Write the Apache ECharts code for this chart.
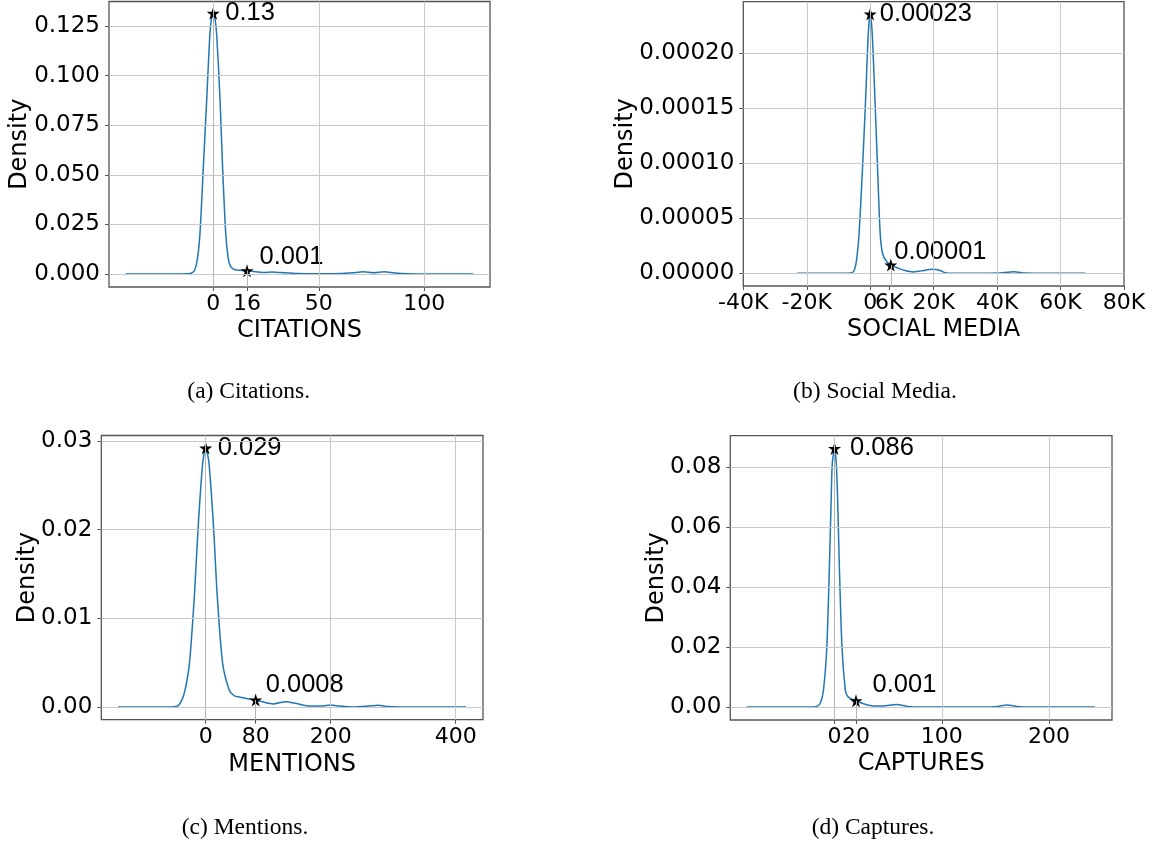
<!DOCTYPE html>
<html>
<head>
<meta charset="utf-8">
<title>Density plots</title>
<script src="https://cdn.jsdelivr.net/npm/echarts@6.0.0/dist/echarts.min.js"></script>
<style>
  html, body { margin: 0; padding: 0; background: #fff; }
  #chart { width: 1159px; height: 843px; }
</style>
</head>
<body>
<div id="chart"></div>
<script>
// (a) citations
const citationsX = [-41.5, -20, -12, -10.5, -9, -7.6, -6.3, -4.7, -3.1, -1.6, -0.7, 0, 0.7, 1.6, 3.2, 4.4, 5.9, 7, 8, 9.5, 12, 16, 20, 24, 28, 32, 40, 50, 60, 66, 71, 76, 81, 86, 92, 100, 123.2];
const citationsY = [0, 0, 0.0001, 0.0004, 0.0015, 0.007, 0.0205, 0.054, 0.088, 0.121, 0.1298, 0.1314, 0.1295, 0.121, 0.088, 0.054, 0.0205, 0.0085, 0.0042, 0.0025, 0.0019, 0.0017, 0.0011, 0.0008, 0.001, 0.0007, 0.0002, 0.0001, 0.0002, 0.0006, 0.0011, 0.0006, 0.0011, 0.0005, 0.0001, 0, 0];
const citationsXTicks = [0, 16, 50, 100];
const citationsXGrid = [0, 50, 100];
const citationsYTicks = [0, 0.025, 0.05, 0.075, 0.1, 0.125];
const citationsMarks = [[0, 0.1314], [16, 0.0017]];
const citationsMarkText = ['0.13', '0.001'];

// (b) social media
const socialX = [-23000, -10000, -6000, -5000, -4300, -3500, -2400, -1450, -600, 0, 630, 1500, 2300, 3150, 3900, 5200, 6500, 9000, 11000, 13500, 16000, 19800, 22000, 24000, 30000, 40000, 45300, 49000, 55000, 67800];
const socialY = [0, 0, 0.0000002, 0.000003, 0.000012, 0.000036, 0.000097, 0.000158, 0.000218, 0.000236, 0.000218, 0.000158, 0.000097, 0.000036, 0.000018, 0.0000105, 0.0000075, 0.0000045, 0.0000025, 0.0000012, 0.0000022, 0.0000036, 0.0000025, 0.0000003, 0, 0.0000002, 0.0000015, 0.0000002, 0, 0];
const socialXTicks = [-40000, -20000, 0, 6000, 20000, 40000, 60000, 80000];
const socialXGrid = [-20000, 0, 20000, 40000, 60000];
const socialYTicks = [0, 0.00005, 0.0001, 0.00015, 0.0002];
const socialMarks = [[0, 0.0002357], [6500, 0.0000075]];
const socialMarkText = ['0.00023', '0.00001'];

// (c) mentions
const mentionsX = [-140, -60, -45, -38, -33, -26, -18.2, -12.3, -4.8, 0, 5.3, 12.8, 18.6, 27.2, 37.8, 45, 52, 65, 80, 95, 108, 128, 145, 167, 185, 200, 215, 236, 260, 276, 292, 320, 416.5];
const mentionsY = [0, 0, 0.0001, 0.0008, 0.0019, 0.0049, 0.0124, 0.02, 0.0275, 0.0292, 0.0275, 0.02, 0.0124, 0.0049, 0.0019, 0.0013, 0.00115, 0.00095, 0.0008, 0.0005, 0.00034, 0.0006, 0.0004, 0.0001, 0.0001, 0.00023, 0.0001, 0, 0.0001, 0.0002, 0.00005, 0, 0];
const mentionsXTicks = [0, 80, 200, 400];
const mentionsXGrid = [0, 200, 400];
const mentionsYTicks = [0, 0.01, 0.02, 0.03];
const mentionsMarks = [[0, 0.0292], [80, 0.0008]];
const mentionsMarkText = ['0.029', '0.0008'];

// (d) captures
const capturesX = [-82, -25, -16, -13, -10.3, -7.2, -4.7, -3.1, -2.1, 0, 1.6, 2.8, 4.4, 6.9, 10, 12, 14.6, 20, 27, 35, 45, 57.7, 68, 80, 140, 152, 161, 170, 180, 242.7];
const capturesY = [0, 0, 0.0003, 0.0015, 0.0057, 0.0201, 0.048, 0.0702, 0.0813, 0.0863, 0.0813, 0.0702, 0.048, 0.0201, 0.0057, 0.0036, 0.0029, 0.0021, 0.0011, 0.0004, 0.0003, 0.0008, 0.0002, 0, 0, 0.0002, 0.0007, 0.0002, 0, 0];
const capturesXTicks = [0, 20, 100, 200];
const capturesXGrid = [0, 100, 200];
const capturesYTicks = [0, 0.02, 0.04, 0.06, 0.08];
const capturesMarks = [[0, 0.0863], [20, 0.0021]];
const capturesMarkText = ['0.086', '0.001'];

const captions = ['(a) Citations.', '(b) Social Media.', '(c) Mentions.', '(d) Captures.'];

const kFmt = v => (v === 0 ? '0' : v / 1000 + 'K');

const panels = [
  { grid: { left: 109, top: 1.5, width: 381, height: 285.5 }, xMin: -49.4, xMax: 131.1, yMin: -0.00655, yMax: 0.13735,
    x: citationsX, y: citationsY, xTicks: citationsXTicks, xGrid: citationsXGrid, yTicks: citationsYTicks,
    yDigits: 3, xFmt: String, name: 'CITATIONS', xGap: 32, yGap: 77,
    marks: citationsMarks, markText: citationsMarkText, offsets: [[5.5, 0], [6, -14]] },
  { grid: { left: 743.3, top: 1.7, width: 380.7, height: 284.3 }, xMin: -40000, xMax: 80000, yMin: -0.00001155, yMax: 0.0002469,
    x: socialX, y: socialY, xTicks: socialXTicks, xGrid: socialXGrid, yTicks: socialYTicks,
    yDigits: 5, xFmt: kFmt, name: 'SOCIAL MEDIA', xGap: 32, yGap: 106,
    marks: socialMarks, markText: socialMarkText, offsets: [[3, 0], [-3, -13]] },
  { grid: { left: 101.3, top: 435.5, width: 381.7, height: 284.2 }, xMin: -167, xMax: 443.7, yMin: -0.001432, yMax: 0.03062,
    x: mentionsX, y: mentionsY, xTicks: mentionsXTicks, xGrid: mentionsXGrid, yTicks: mentionsYTicks,
    yDigits: 2, xFmt: String, name: 'MENTIONS', xGap: 33, yGap: 62,
    marks: mentionsMarks, markText: mentionsMarkText, offsets: [[5.5, 0], [3.5, -15]] },
  { grid: { left: 730.3, top: 435.7, width: 381.7, height: 284.3 }, xMin: -97.2, xMax: 258.7, yMin: -0.00434, yMax: 0.09055,
    x: capturesX, y: capturesY, xTicks: capturesXTicks, xGrid: capturesXGrid, yTicks: capturesYTicks,
    yDigits: 2, xFmt: String, name: 'CAPTURES', xGap: 32, yGap: 62,
    marks: capturesMarks, markText: capturesMarkText, offsets: [[9, 0], [10, -15.5]] }
];

const yTickFont = { fontFamily: 'DejaVu Sans', fontSize: 23, color: '#000' };
const xTickFont = { fontFamily: 'DejaVu Sans', fontSize: 22, color: '#000' };
const nameFont = { fontFamily: 'DejaVu Sans', fontSize: 24, color: '#000' };
const starPath = 'path://M50,0 L61,35 L98,35 L68,57 L79,91 L50,70 L21,91 L32,57 L2,35 L39,35 Z';

const grids = [], xAxes = [], yAxes = [], series = [];

panels.forEach((p, i) => {
  grids.push(Object.assign({ show: true, borderColor: '#555', borderWidth: 1.3, containLabel: false }, p.grid));

  xAxes.push({
    type: 'value', gridIndex: i, min: p.xMin, max: p.xMax,
    name: p.name, nameLocation: 'middle', nameGap: p.xGap, nameMoveOverlap: false,
    nameTextStyle: nameFont,
    axisLine: { show: false, onZero: false },
    axisTick: { show: true, inside: false, length: 4, customValues: p.xTicks, lineStyle: { color: '#555', width: 1 } },
    axisLabel: Object.assign({ margin: 6.5, customValues: p.xTicks, formatter: p.xFmt, hideOverlap: false }, xTickFont),
    splitLine: { show: false }
  });

  yAxes.push({
    type: 'value', gridIndex: i, min: p.yMin, max: p.yMax,
    name: 'Density', nameLocation: 'middle', nameGap: p.yGap, nameRotate: 90, nameMoveOverlap: false,
    nameTextStyle: nameFont,
    axisLine: { show: false, onZero: false },
    axisTick: { show: true, inside: false, length: 4, customValues: p.yTicks, lineStyle: { color: '#555', width: 1 } },
    axisLabel: Object.assign({ margin: 9, customValues: p.yTicks, formatter: v => v.toFixed(p.yDigits) }, yTickFont),
    splitLine: { show: false }
  });

  // grid lines and drop lines under the curve
  const gridLines = p.xGrid.map(v => ({ xAxis: v })).concat(p.yTicks.map(v => ({ yAxis: v })));
  const dropLines = p.marks.map(m => [{ coord: [m[0], p.yMin] }, { coord: [m[0], m[1]] }]);
  series.push({
    type: 'line', xAxisIndex: i, yAxisIndex: i, data: [], z: 1, silent: true,
    markLine: {
      silent: true, symbol: ['none', 'none'], animation: false, label: { show: false },
      precision: 10,
      lineStyle: { color: '#c8c8c8', width: 1, type: 'solid' },
      emphasis: { disabled: true },
      data: gridLines.concat(dropLines.map(d => [
        Object.assign({ lineStyle: { color: '#b4b4b4', width: 1, type: 'solid' } }, d[0]), d[1]
      ]))
    }
  });

  series.push({
    type: 'line', xAxisIndex: i, yAxisIndex: i, z: 3,
    data: p.x.map((v, k) => [v, p.y[k]]),
    showSymbol: false, smooth: 0.25, silent: true,
    lineStyle: { color: '#1f77b4', width: 1.5 }
  });

  series.push({
    type: 'scatter', xAxisIndex: i, yAxisIndex: i, z: 4, silent: true,
    symbol: starPath, symbolSize: 13,
    itemStyle: { color: '#000', opacity: 1 },
    data: p.marks.map((m, k) => ({
      value: m,
      label: {
        show: true, position: 'right', distance: 0, offset: p.offsets[k],
        formatter: p.markText[k], textBorderWidth: 0, textShadowBlur: 0,
        fontFamily: '"Liberation Sans", Arial, sans-serif', fontSize: 25.5, color: '#000'
      }
    }))
  });
});

const captionPos = [[248.7, 392], [875, 392], [245, 828], [873, 828]];

const myChart = echarts.init(document.getElementById('chart'), null, { renderer: 'canvas' });
myChart.setOption({
  backgroundColor: '#fff',
  animation: false,
  grid: grids,
  xAxis: xAxes,
  yAxis: yAxes,
  series: series,
  graphic: captions.map((t, i) => ({
    type: 'text', x: captionPos[i][0], y: captionPos[i][1], silent: true,
    style: {
      text: t, align: 'center', verticalAlign: 'middle',
      font: '23.5px "Liberation Serif", "Times New Roman", serif', fill: '#000'
    }
  }))
});
</script>
</body>
</html>
